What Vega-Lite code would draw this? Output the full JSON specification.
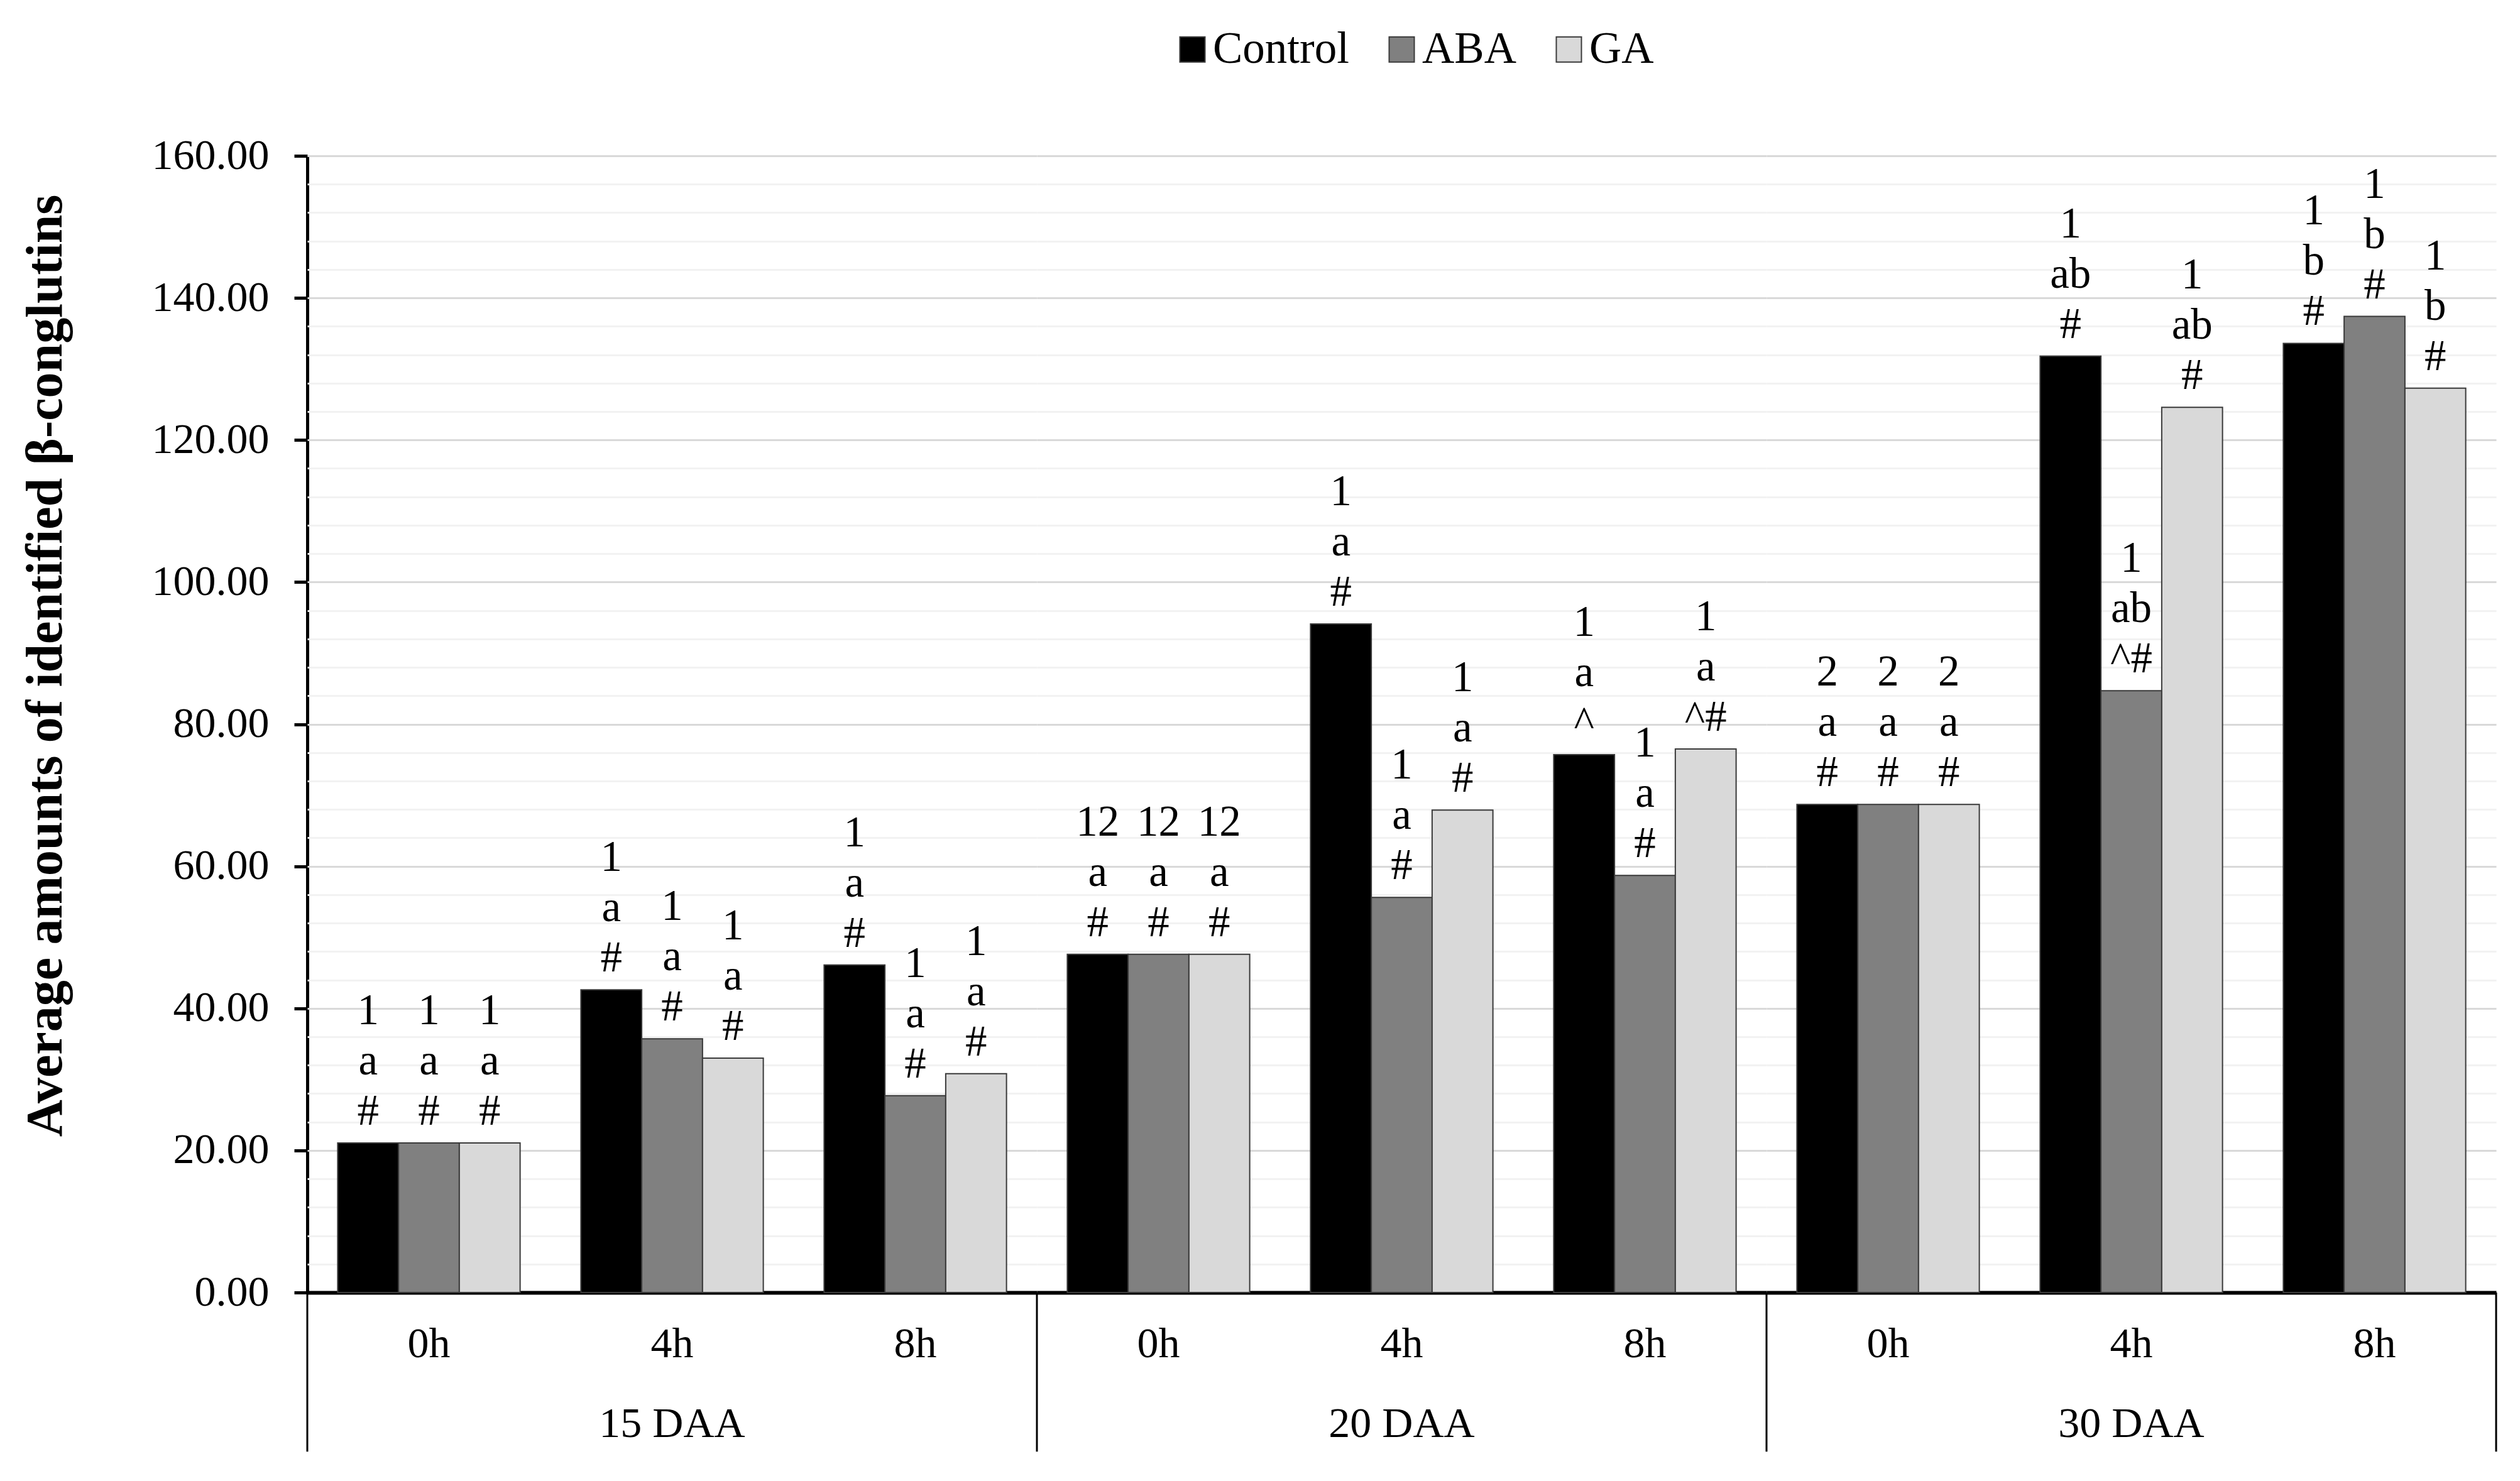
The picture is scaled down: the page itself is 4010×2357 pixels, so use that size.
{
  "$schema": "https://vega.github.io/schema/vega-lite/v6.json",
  "background": "white",
  "padding": {"left": 31, "top": 43, "right": 30, "bottom": 40},
  "bounds": "flush",
  "data": {
    "values": [
      {"DAA": "15 DAA", "time": "0h", "series": "Control", "value": 21.05, "label": "1\na\n#"},
      {"DAA": "15 DAA", "time": "0h", "series": "ABA", "value": 21.05, "label": "1\na\n#"},
      {"DAA": "15 DAA", "time": "0h", "series": "GA", "value": 21.05, "label": "1\na\n#"},
      {"DAA": "15 DAA", "time": "4h", "series": "Control", "value": 42.6, "label": "1\na\n#"},
      {"DAA": "15 DAA", "time": "4h", "series": "ABA", "value": 35.7, "label": "1\na\n#"},
      {"DAA": "15 DAA", "time": "4h", "series": "GA", "value": 33.0, "label": "1\na\n#"},
      {"DAA": "15 DAA", "time": "8h", "series": "Control", "value": 46.1, "label": "1\na\n#"},
      {"DAA": "15 DAA", "time": "8h", "series": "ABA", "value": 27.7, "label": "1\na\n#"},
      {"DAA": "15 DAA", "time": "8h", "series": "GA", "value": 30.8, "label": "1\na\n#"},
      {"DAA": "20 DAA", "time": "0h", "series": "Control", "value": 47.6, "label": "12\na\n#"},
      {"DAA": "20 DAA", "time": "0h", "series": "ABA", "value": 47.6, "label": "12\na\n#"},
      {"DAA": "20 DAA", "time": "0h", "series": "GA", "value": 47.6, "label": "12\na\n#"},
      {"DAA": "20 DAA", "time": "4h", "series": "Control", "value": 94.1, "label": "1\na\n#"},
      {"DAA": "20 DAA", "time": "4h", "series": "ABA", "value": 55.6, "label": "1\na\n#"},
      {"DAA": "20 DAA", "time": "4h", "series": "GA", "value": 67.9, "label": "1\na\n#"},
      {"DAA": "20 DAA", "time": "8h", "series": "Control", "value": 75.7, "label": "1\na\n^"},
      {"DAA": "20 DAA", "time": "8h", "series": "ABA", "value": 58.7, "label": "1\na\n#"},
      {"DAA": "20 DAA", "time": "8h", "series": "GA", "value": 76.5, "label": "1\na\n^#"},
      {"DAA": "30 DAA", "time": "0h", "series": "Control", "value": 68.7, "label": "2\na\n#"},
      {"DAA": "30 DAA", "time": "0h", "series": "ABA", "value": 68.7, "label": "2\na\n#"},
      {"DAA": "30 DAA", "time": "0h", "series": "GA", "value": 68.7, "label": "2\na\n#"},
      {"DAA": "30 DAA", "time": "4h", "series": "Control", "value": 131.8, "label": "1\nab\n#"},
      {"DAA": "30 DAA", "time": "4h", "series": "ABA", "value": 84.7, "label": "1\nab\n^#"},
      {"DAA": "30 DAA", "time": "4h", "series": "GA", "value": 124.6, "label": "1\nab\n#"},
      {"DAA": "30 DAA", "time": "8h", "series": "Control", "value": 133.6, "label": "1\nb\n#"},
      {"DAA": "30 DAA", "time": "8h", "series": "ABA", "value": 137.4, "label": "1\nb\n#"},
      {"DAA": "30 DAA", "time": "8h", "series": "GA", "value": 127.3, "label": "1\nb\n#"}
    ]
  },
  "facet": {
    "column": {
      "field": "DAA",
      "type": "nominal",
      "sort": ["15 DAA", "20 DAA", "30 DAA"],
      "header": {
        "title": null,
        "labelOrient": "bottom",
        "labelFont": "Liberation Serif",
        "labelFontSize": 68,
        "labelColor": "black",
        "labelPadding": 60
      }
    }
  },
  "spacing": 0,
  "spec": {
    "width": 1161,
    "height": 1809,
    "layer": [
      {
        "mark": {"type": "bar", "stroke": "#3a3a3a", "strokeWidth": 2},
        "encoding": {
          "x": {
            "field": "time",
            "type": "nominal",
            "sort": ["0h", "4h", "8h"],
            "scale": {"paddingInner": 0, "paddingOuter": 0},
            "axis": {
              "title": null,
              "labelAngle": 0,
              "labelFont": "Liberation Serif",
              "labelFontSize": 68,
              "labelColor": "black",
              "labelPadding": 48,
              "ticks": false,
              "tickSize": 0,
              "domainColor": "black",
              "domainWidth": 6,
              "grid": false,
              "zindex": 1
            }
          },
          "xOffset": {
            "field": "series",
            "type": "nominal",
            "sort": ["Control", "ABA", "GA"],
            "scale": {"paddingInner": 0, "paddingOuter": 0.5}
          },
          "y": {
            "field": "value",
            "type": "quantitative",
            "scale": {"domain": [0, 160], "nice": false, "zero": true},
            "axis": {
              "title": "Average amounts of identified β-conglutins",
              "titleFont": "Liberation Serif",
              "titleFontSize": 82,
              "titleFontWeight": "bold",
              "titleColor": "black",
              "titlePadding": 175,
              "titleY": 811,
              "values": [0, 4, 8, 12, 16, 20, 24, 28, 32, 36, 40, 44, 48, 52, 56, 60, 64, 68, 72, 76, 80, 84, 88, 92, 96, 100, 104, 108, 112, 116, 120, 124, 128, 132, 136, 140, 144, 148, 152, 156, 160],
              "labelExpr": "datum.value % 20 === 0 ? format(datum.value, '.2f') : ''",
              "labelOverlap": false,
              "labelLimit": 0,
              "labelFont": "Liberation Serif",
              "labelFontSize": 68,
              "labelColor": "black",
              "labelPadding": 40,
              "tickSize": 21,
              "tickWidth": 5,
              "tickColor": {"condition": {"test": "datum.value % 20 === 0", "value": "black"}, "value": "transparent"},
              "domainColor": "black",
              "domainWidth": 5,
              "gridColor": {"condition": [{"test": "datum.value === 0", "value": "transparent"}, {"test": "datum.value % 20 === 0", "value": "#d9d9d9"}], "value": "#f2f2f2"},
              "gridWidth": 3
            }
          },
          "color": {
            "field": "series",
            "type": "nominal",
            "sort": ["Control", "ABA", "GA"],
            "scale": {"domain": ["Control", "ABA", "GA"], "range": ["#000000", "#808080", "#d9d9d9"]},
            "legend": {
              "title": null,
              "orient": "none",
              "direction": "horizontal",
              "legendX": 1373,
              "legendY": -205,
              "symbolType": "square",
              "symbolSize": 1600,
              "symbolStrokeColor": "#3a3a3a",
              "symbolStrokeWidth": 2,
              "symbolOpacity": 1,
              "labelFont": "Liberation Serif",
              "labelFontSize": 71,
              "labelColor": "black",
              "labelOffset": -3,
              "labelLimit": 0,
              "columnPadding": 48
            }
          }
        }
      },
      {
        "mark": {
          "type": "text",
          "lineBreak": "\n",
          "baseline": "bottom",
          "align": "center",
          "dy": -175,
          "font": "Liberation Serif",
          "fontSize": 69,
          "lineHeight": 80,
          "color": "black"
        },
        "encoding": {
          "x": {"field": "time", "type": "nominal", "sort": ["0h", "4h", "8h"]},
          "xOffset": {"field": "series", "type": "nominal", "sort": ["Control", "ABA", "GA"]},
          "y": {"field": "value", "type": "quantitative"},
          "text": {"field": "label", "type": "nominal"}
        }
      },
      {
        "transform": [{"filter": "datum.time === '0h' && datum.series === 'Control'"}],
        "mark": {"type": "rule", "color": "black", "strokeWidth": 3},
        "encoding": {
          "x": {"field": "time", "type": "nominal", "sort": ["0h", "4h", "8h"], "bandPosition": 0},
          "y": {"datum": 0},
          "y2": {"datum": -22.4}
        }
      },
      {
        "transform": [{"filter": "datum.DAA === '30 DAA' && datum.time === '8h' && datum.series === 'Control'"}],
        "mark": {"type": "rule", "color": "black", "strokeWidth": 3},
        "encoding": {
          "x": {"field": "time", "type": "nominal", "sort": ["0h", "4h", "8h"], "bandPosition": 1},
          "y": {"datum": 0},
          "y2": {"datum": -22.4}
        }
      }
    ]
  },
  "config": {
    "view": {"stroke": null},
    "font": "Liberation Serif"
  }
}
